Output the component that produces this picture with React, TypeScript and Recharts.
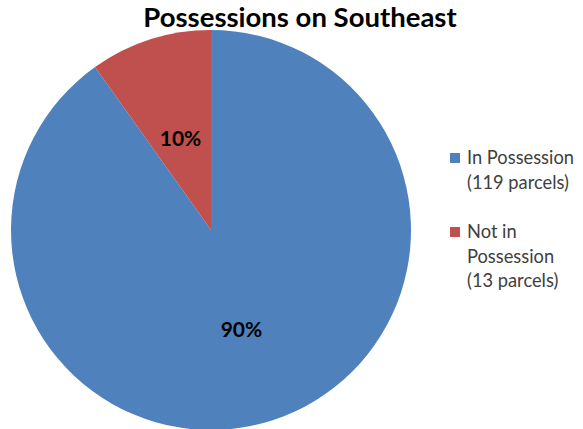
import React from "react";
import { PieChart, Pie, Cell, Legend } from "recharts";

const categories = ["In Possession (119 parcels)", "Not in Possession (13 parcels)"];
const legendLines = [["In Possession", "(119 parcels)"], ["Not in", "Possession", "(13 parcels)"]];
const parcels = [119, 13];
const percentLabels = ["90%", "10%"];
const colors = ["#4F81BD", "#C0504D"];

const data = categories.map((name, i) => ({ name, value: parcels[i] }));

const FONT = "Lato, 'Open Sans', 'Liberation Sans', sans-serif";

const RADIAN = Math.PI / 180;

const renderLabel = (props: any) => {
    const { cx, cy, midAngle, outerRadius, index } = props;
    const r = outerRadius * 0.5;
    const x = cx + r * Math.cos(-midAngle * RADIAN);
    const y = cy + r * Math.sin(-midAngle * RADIAN) + 3;
    return (
        <text x={x} y={y} textAnchor="middle" dominantBaseline="central" fontFamily={FONT} fontSize={21} fontWeight="bold" fill="#000">
            {percentLabels[index]}
        </text>
    );
};

const CustomLegend = () => (
    <div style={{ fontFamily: FONT, fontSize: 18.3, color: "#404040", lineHeight: "24.5px" }}>
        {legendLines.map((lines, i) => (
            <div key={i} style={{ display: "flex", marginBottom: i === 0 ? 25 : 0 }}>
                <div style={{ width: 10, height: 10, background: colors[i], marginTop: 8, marginRight: 7, flexShrink: 0 }} />
                <div>
                    {lines.map((l, j) => (
                        <div key={j}>{l}</div>
                    ))}
                </div>
            </div>
        ))}
    </div>
);

export default function App() {
    return (
        <div style={{ position: "absolute", left: 0, top: 0, width: 583, height: 429, background: "#fff", overflow: "hidden" }}>
            <div style={{ position: "absolute", left: 0, width: 600, top: -2, textAlign: "center", fontFamily: FONT, fontWeight: "bold", fontSize: 27.5, color: "#000", lineHeight: "38px" }}>
                Possessions on Southeast
            </div>
            <PieChart width={583} height={429} margin={{ top: 0, right: 0, bottom: 0, left: 0 }}>
                <Pie
                    data={data}
                    dataKey="value"
                    nameKey="name"
                    cx={211}
                    cy={230}
                    outerRadius={200}
                    startAngle={90}
                    endAngle={-270}
                    stroke="none"
                    label={renderLabel}
                    labelLine={false}
                    isAnimationActive={false}
                >
                    {data.map((_, i) => (
                        <Cell key={`cell-${i}`} fill={colors[i]} />
                    ))}
                </Pie>
                <Legend
                    content={<CustomLegend />}
                    wrapperStyle={{ position: "absolute", left: 450, top: 145, width: 133 }}
                />
            </PieChart>
        </div>
    );
}
